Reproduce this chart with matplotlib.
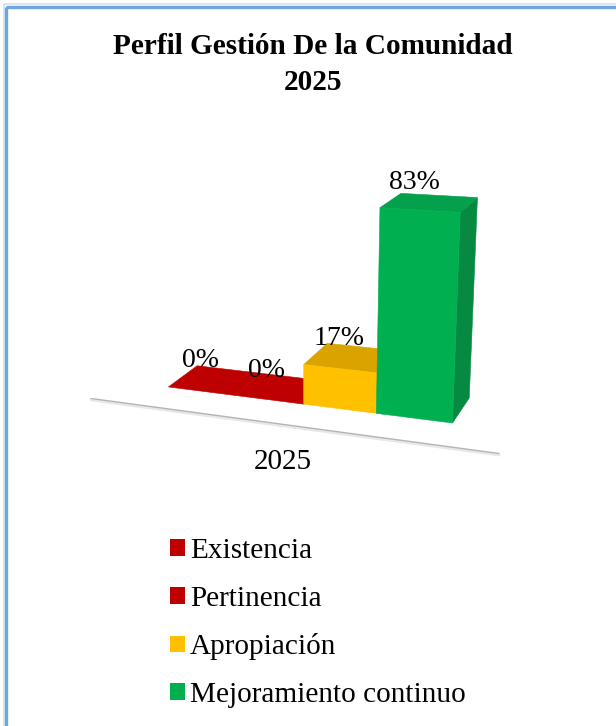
import numpy as np
import matplotlib
matplotlib.use("Agg")
import matplotlib.pyplot as plt
from matplotlib.patches import Polygon, Patch, Rectangle

title_lines = ["Perfil Gestión De la Comunidad", "2025"]
period = "2025"
categories = ["Existencia", "Pertinencia", "Apropiación", "Mejoramiento continuo"]
values = [0, 0, 17, 83]
value_labels = ["0%", "0%", "17%", "83%"]

front_colors = ["#C00000", "#C00000", "#FFC000", "#00B050"]
top_colors = ["#BE0000", "#BE0000", "#D9A300", "#04A04C"]
side_colors = ["#A00000", "#A00000", "#C79600", "#068A42"]
label_offsets = [(-28, -9), (-27, -7), (-23, -8), (-24, -13)]

plt.rcParams["font.family"] = ["Liberation Serif", "DejaVu Serif"]
fig = plt.figure(figsize=(6.16, 7.26), dpi=100)
ax = fig.add_axes([0, 0, 1, 1])
ax.set_xlim(0, 616)
ax.set_ylim(726, 0)
ax.axis("off")

# Camera calibration: (category slot, value, depth) -> (pixel x, pixel y)
calib = np.array([
    (0, 0, 0, 168, 387), (2, 0, 0, 304, 404), (3, 0, 0, 377, 413), (4, 0, 0, 452, 423),
    (2, 17, 0, 304, 365), (3, 17, 0, 377, 373), (3, 83, 0, 380, 207), (4, 83, 0, 460, 213),
    (0, 0, 1, 198, 366), (2, 17, 1, 325, 343), (3, 83, 1, 402, 193), (4, 83, 1, 477, 198),
    (4, 0, 1, 470, 398),
], dtype=float)
rows, rhs = [], []
for c, v, d, px, py in calib:
    rows.append([c, v, d, 1, 0, 0, 0, 0, -px * c, -px * v, -px * d]); rhs.append(px)
    rows.append([0, 0, 0, 0, c, v, d, 1, -py * c, -py * v, -py * d]); rhs.append(py)
h = np.linalg.lstsq(np.array(rows), np.array(rhs), rcond=None)[0]
P = np.append(h, 1.0).reshape(3, 4)


def project(c, v, d):
    x, y, w = P @ np.array([c, v, d, 1.0])
    return x / w, y / w


# baseline
ax.plot([91, 499], [400, 455], color="#E8E8E8", lw=2.0, solid_capstyle="round", zorder=1)
ax.plot([91, 499], [398.5, 453.5], color="#B4B4B4", lw=1.0, solid_capstyle="round", zorder=1.1)

for i, val in enumerate(values):
    c0, c1 = i, i + 1
    z = 2 + i
    front = [project(c0, 0, 0), project(c1, 0, 0), project(c1, val, 0), project(c0, val, 0)]
    top = [project(c0, val, 0), project(c1, val, 0), project(c1, val, 1), project(c0, val, 1)]
    side = [project(c1, 0, 0), project(c1, 0, 1), project(c1, val, 1), project(c1, val, 0)]
    if val > 0:
        ax.add_patch(Polygon(side, closed=True, fc=side_colors[i], ec=side_colors[i], lw=0.4, zorder=z))
    ax.add_patch(Polygon(top, closed=True, fc=top_colors[i], ec=top_colors[i], lw=0.4, zorder=z))
    if val > 0:
        ax.add_patch(Polygon(front, closed=True, fc=front_colors[i], ec=front_colors[i], lw=0.4, zorder=z + 0.1))

for i, (val, lab) in enumerate(zip(values, value_labels)):
    x, y = project(i + 0.5, val, 1)
    ox, oy = label_offsets[i]
    ax.text(x + ox, y + oy, lab, ha="center", va="center", fontsize=20, color="black", zorder=20)

# Title and category label
ax.text(313, 47, title_lines[0], ha="center", va="center", fontsize=21.1, fontweight="bold", color="black")
ax.text(313, 83, title_lines[1], ha="center", va="center", fontsize=21.1, fontweight="bold", color="black")
ax.text(283, 462, period, ha="center", va="center", fontsize=21, color="black")

# Legend
handles = [Patch(fc=col, ec="none") for col in front_colors]
fs = 21.1
ax.legend(handles, categories, loc="upper left", bbox_to_anchor=(170 / 616, 1 - 538 / 726),
          frameon=False, fontsize=fs, handlelength=0.51, handleheight=0.51, handletextpad=0.17,
          labelspacing=0.74, borderpad=0, borderaxespad=0)

# Frame of the chart area
ax.add_patch(Rectangle((3.5, 4), 620, 730, fc="none", ec="#CFE0F2", lw=1.2, zorder=30))
ax.add_patch(Rectangle((6, 6.5), 620, 730, fc="none", ec="#6FA6DE", lw=2.4, zorder=31))

fig.savefig("out.png", dpi=100, facecolor="white")
